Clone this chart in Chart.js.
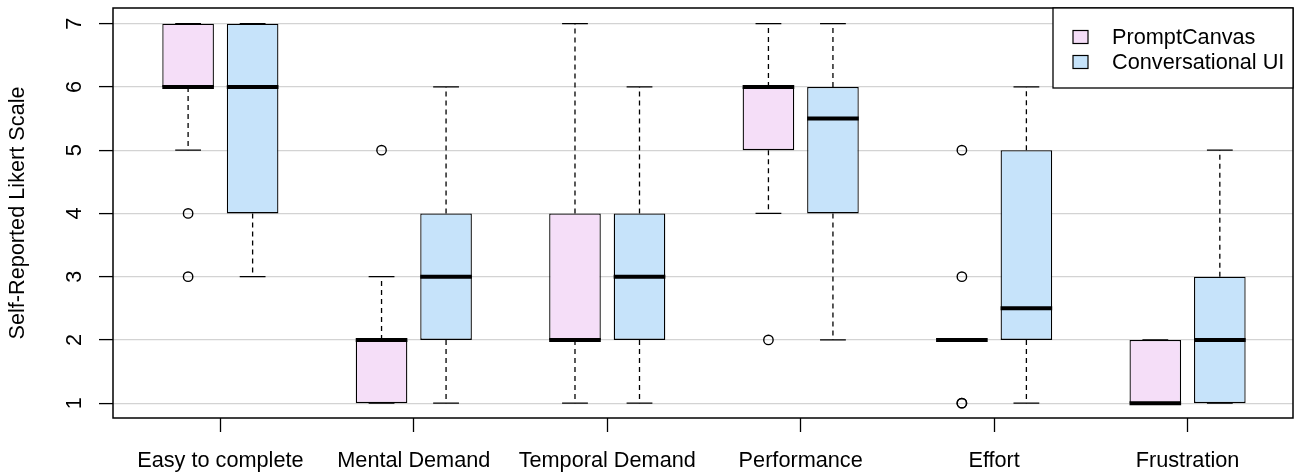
<!DOCTYPE html>
<html>
<head>
<meta charset="utf-8">
<script src="https://cdn.jsdelivr.net/npm/chart.js@4"></script>
<style>
  html, body { margin: 0; padding: 0; background: #fff; }
  #wrap { width: 1298px; height: 475px; position: relative; }
</style>
</head>
<body>
<div id="wrap"><canvas id="myChart"></canvas></div>
<script>
// Categories and groups
const categories = ['Easy to complete', 'Mental Demand', 'Temporal Demand', 'Performance', 'Effort', 'Frustration'];
const groupNames = ['PromptCanvas', 'Conversational UI'];

// Box stats per category: [lower whisker, Q1, median, Q3, upper whisker]
const promptCanvasStats = [[5, 6, 6, 7, 7], [1, 1, 2, 2, 3], [1, 2, 2, 4, 7], [4, 5, 6, 6, 7], [2, 2, 2, 2, 2], [1, 1, 1, 2, 2]];
const conversationalStats = [[3, 4, 6, 7, 7], [1, 2, 3, 4, 6], [1, 2, 3, 4, 6], [2, 4, 5.5, 6, 7], [1, 2, 2.5, 5, 6], [1, 1, 2, 3, 5]];

// Outliers per category
const promptCanvasOutliers = [[4, 3], [5], [], [2], [5, 3, 1, 1], []];
const conversationalOutliers = [[], [], [], [], [], []];

// Tick values
const yTicks = [1, 2, 3, 4, 5, 6, 7];

const groupColors = ['#F5DEF8', '#C6E3FA'];
const FONT = '"Liberation Sans", Arial, Helvetica, sans-serif';
const FONT_SIZE = 21.7;

Chart.defaults.font.family = FONT;
Chart.defaults.font.size = FONT_SIZE;
Chart.defaults.color = '#000';


function boxData(stats) {
    return stats.map((s, i) => ({ x: i + 1, y: [s[1], s[3]] }));
}


// whiskers, medians, outliers
const boxExtras = {
    id: 'boxExtras',
    afterDatasetsDraw(chart) {
        const ctx = chart.ctx;
        const yScale = chart.scales.y;
        chart.data.datasets.forEach((ds, di) => {
            const meta = chart.getDatasetMeta(di);
            meta.data.forEach((bar, i) => {
                const [lo, q1, med, q3, hi] = ds.stats[i];
                const cx = bar.x;
                const w = bar.width;
                const pLo = yScale.getPixelForValue(lo);
                const pQ1 = yScale.getPixelForValue(q1);
                const pQ3 = yScale.getPixelForValue(q3);
                const pHi = yScale.getPixelForValue(hi);
                const pMed = yScale.getPixelForValue(med);

                ctx.save();
                ctx.strokeStyle = '#000';
                ctx.lineWidth = 1.3;

                // dashed whiskers
                ctx.setLineDash([5, 4]);
                ctx.beginPath();
                if (lo < q1) { ctx.moveTo(cx, pQ1); ctx.lineTo(cx, pLo); }
                if (hi > q3) { ctx.moveTo(cx, pQ3); ctx.lineTo(cx, pHi); }
                ctx.stroke();

                // staples
                ctx.setLineDash([]);
                ctx.beginPath();
                ctx.moveTo(cx - w / 4, pLo); ctx.lineTo(cx + w / 4, pLo);
                ctx.moveTo(cx - w / 4, pHi); ctx.lineTo(cx + w / 4, pHi);
                ctx.stroke();

                // median
                ctx.lineWidth = 4;
                ctx.lineCap = 'butt';
                ctx.beginPath();
                ctx.moveTo(cx - w / 2, pMed); ctx.lineTo(cx + w / 2, pMed);
                ctx.stroke();

                // outliers
                ctx.lineWidth = 1.4;
                ds.outliers[i].forEach(v => {
                    ctx.beginPath();
                    ctx.arc(cx, yScale.getPixelForValue(v), 4.7, 0, Math.PI * 2);
                    ctx.stroke();
                });
                ctx.restore();
            });
        });
    }
};


// rotated y tick labels, frame and legend box
const frameAndLegend = {
    id: 'frameAndLegend',
    afterDraw(chart) {
        const ctx = chart.ctx;
        const area = chart.chartArea;
        const yScale = chart.scales.y;

        ctx.save();
        ctx.fillStyle = '#000';
        ctx.font = FONT_SIZE + 'px ' + FONT;
        ctx.textAlign = 'center';
        ctx.textBaseline = 'middle';
        yScale.ticks.forEach(t => {
            const py = yScale.getPixelForValue(t.value);
            ctx.save();
            ctx.translate(yScale.right - 38, py);
            ctx.rotate(-Math.PI / 2);
            ctx.fillText(String(t.value), 0, 0);
            ctx.restore();
        });

        // plot frame
        ctx.strokeStyle = '#000';
        ctx.lineWidth = 1.5;
        ctx.strokeRect(area.left, area.top, area.right - area.left, area.bottom - area.top);

        // legend
        const lw = 240, lh = 80;
        const lx = area.right - lw, ly = area.top;
        ctx.fillStyle = '#fff';
        ctx.fillRect(lx, ly, lw, lh);
        ctx.lineWidth = 1.3;
        ctx.strokeRect(lx, ly, lw, lh);
        ctx.textAlign = 'left';
        chart.data.datasets.forEach((ds, di) => {
            const cy = ly + 29 + di * 25;
            ctx.fillStyle = ds.backgroundColor;
            ctx.fillRect(lx + 20, cy - 6.5, 15, 13);
            ctx.strokeStyle = '#000';
            ctx.lineWidth = 1.2;
            ctx.strokeRect(lx + 20, cy - 6.5, 15, 13);
            ctx.fillStyle = '#000';
            ctx.fillText(ds.label, lx + 59, cy + 1);
        });
        ctx.restore();
    }
};


const ctx = document.getElementById('myChart').getContext('2d');
const chart = new Chart(ctx, {
    type: 'bar',
    data: {
        datasets: [{
            label: groupNames[0],
            data: boxData(promptCanvasStats),
            stats: promptCanvasStats,
            outliers: promptCanvasOutliers,
            backgroundColor: groupColors[0],
            borderColor: '#000',
            borderWidth: 1.3,
            borderSkipped: false,
            categoryPercentage: 0.667,
            barPercentage: 0.8
        }, {
            label: groupNames[1],
            data: boxData(conversationalStats),
            stats: conversationalStats,
            outliers: conversationalOutliers,
            backgroundColor: groupColors[1],
            borderColor: '#000',
            borderWidth: 1.3,
            borderSkipped: false,
            categoryPercentage: 0.667,
            barPercentage: 0.8
        }]
    },
    options: {
        responsive: true,
        maintainAspectRatio: false,
        animation: false,
        layout: { padding: { left: 0, right: 5, top: 8, bottom: 0 } },
        plugins: {
            legend: { display: false },
            tooltip: { enabled: false }
        },
        scales: {
            x: {
                type: 'linear',
                offset: false,
                min: 0.445,
                max: 6.545,
                afterBuildTicks: s => { s.ticks = categories.map((c, i) => ({ value: i + 1 })); },
                afterFit: s => { s.height = 57; },
                grid: { offset: false, drawOnChartArea: false, tickLength: 14, tickColor: '#000', tickWidth: 1.3 },
                border: { display: false },
                ticks: {
                    padding: 16,
                    maxRotation: 0,
                    autoSkip: false,
                    callback: v => categories[v - 1]
                }
            },
            y: {
                min: 0.765,
                max: 7.248,
                afterBuildTicks: s => { s.ticks = yTicks.map(v => ({ value: v })); },
                afterFit: s => { s.width = 113; },
                grid: { color: '#D3D3D3', lineWidth: 1.2, tickLength: 14, tickColor: '#000', tickWidth: 1.3 },
                border: { display: false },
                ticks: { display: false },
                title: {
                    display: true,
                    text: 'Self-Reported Likert Scale',
                    padding: { top: 5, bottom: 0 },
                    font: { size: FONT_SIZE }
                }
            }
        }
    },
    plugins: [boxExtras, frameAndLegend]
});
</script>
</body>
</html>
